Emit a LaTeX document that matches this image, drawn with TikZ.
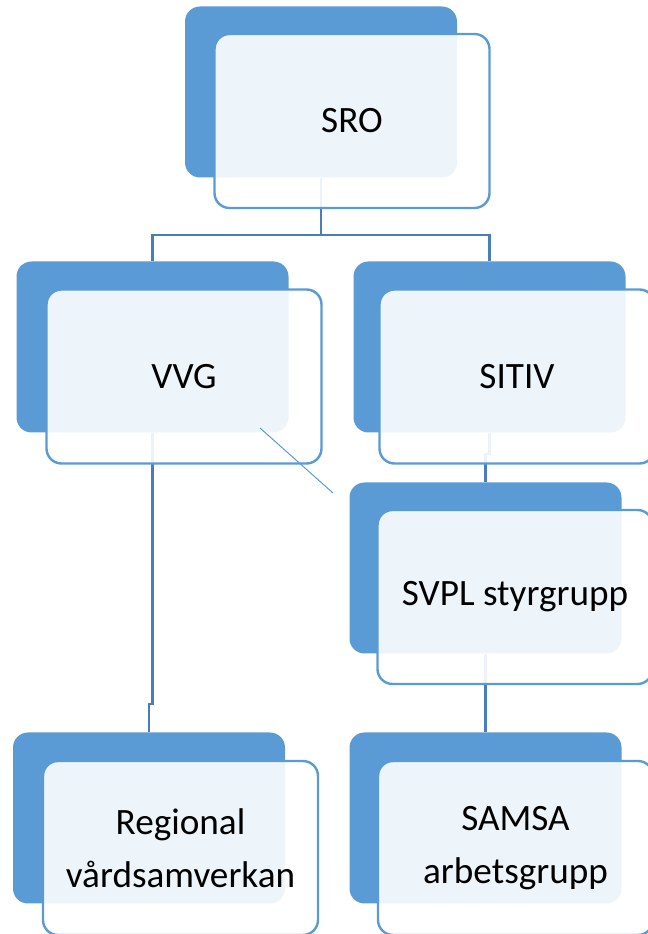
\documentclass[tikz,border=0pt]{standalone}
\usepackage{fontspec}
\setmainfont{Carlito}
\usepackage{xcolor}
\usetikzlibrary{positioning,calc,backgrounds}

\definecolor{boxblue}{RGB}{91,155,213}
\definecolor{linkblue}{RGB}{74,126,187}

\tikzset{
    back/.style={rectangle, rounded corners=7.5pt, fill=boxblue,
        minimum width=136pt, minimum height=85.5pt, inner sep=0pt},
    front/.style={rectangle, rounded corners=7.5pt, draw=boxblue, line width=1.2pt,
        fill=white, fill opacity=0.9, text opacity=1,
        minimum width=137.5pt, minimum height=87pt, inner sep=0pt,
        align=center, font=\fontsize{18.6}{26.5}\selectfont},
    link/.style={draw=linkblue, line width=1.2pt},
}

\begin{document}
\begin{tikzpicture}[x=0.5pt, y=0.5pt]

    \useasboundingbox (0,0) rectangle (648,934);

    
    \node[back] (srob)   at (321,842)   {};
    \node[back] (vvgb)   at (152.5,587) {};
    \node[back] (sitivb) at (489.5,587) {};
    \node[back] (svplb)  at (485.5,366) {};
    \node[back] (regb)   at (149,116)   {};
    \node[back] (samsab) at (485.5,116) {};

    
    \node[front] (sro)   at (352,813)   {SRO};
    \node[front] (vvg)   at (184,557.5) {VVG};
    \node[front] (sitiv) at (517,557.5) {SITIV};
    \node[front] (svpl)  at (515,337)   {SVPL styrgrupp};
    \node[front] (reg)   at (180.5,86)  {Regional\\vårdsamverkan};
    \node[front] (samsa) at (515.5,86)  {SAMSA\\arbetsgrupp};

   
    \begin{scope}[on background layer]
        \draw[link] (srob.south) -- ++(0,-57) coordinate (split) -| (vvgb.north);
        \draw[link] (split) -| (sitivb.north);
        \draw[link] (vvgb.south) |- ($(regb.north)+(0,28)$) -- (regb.north);
        \draw[link] (sitivb.south) |- ($(svplb.north)+(0,28)$) -- (svplb.north);
        \draw[link] (svplb.south) -- (samsab.north);
    \end{scope}

    
    \coordinate (d0) at (260,506);
    \coordinate (d1) at (333,441);
    \draw[boxblue, line width=0.5pt] (d0) -- (d1);

\end{tikzpicture}
\end{document}
